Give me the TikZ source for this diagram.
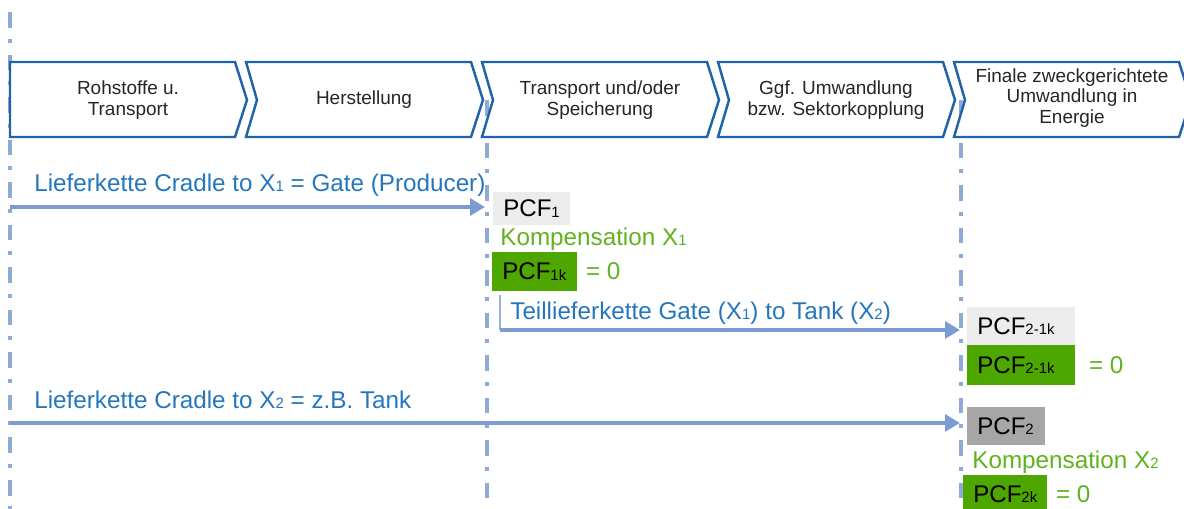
\documentclass[tikz,border=0pt]{standalone}
\usepackage{fontspec}
\setmainfont{Liberation Sans}
\usetikzlibrary{arrows.meta,positioning}

\definecolor{chevblue}{RGB}{31,99,168}
\definecolor{gridblue}{RGB}{143,170,215}
\definecolor{flowblue}{RGB}{124,155,210}
\definecolor{feedblue}{RGB}{150,180,225}
\definecolor{labelblue}{RGB}{36,118,189}
\definecolor{kompgreen}{RGB}{96,178,30}
\definecolor{boxgreen}{RGB}{78,166,0}
\definecolor{boxlight}{RGB}{236,236,236}
\definecolor{boxdark}{RGB}{166,166,166}

% small index digits sitting on the baseline
\newcommand{\ix}[1]{\raisebox{-0.2pt}{\scalebox{0.62}{#1}}}

\begin{document}
\begin{tikzpicture}[%
    x=0.02cm, y=-0.02cm,
    >={Triangle[length=8.5pt,width=9.5pt]},
    phase/.style={font=\fontsize{10.8}{11.6}\selectfont, text=black!85, align=center},
    chevron/.style={draw=chevblue, line width=1.4pt, fill=white},
    boundary/.style={draw=gridblue, line width=2pt,
      dash pattern=on 9pt off 6.2pt on 2.2pt off 6.8pt},
    flow/.style={draw=flowblue, line width=2.6pt, ->},
    feed/.style={draw=feedblue, line width=1.1pt},
    chain/.style={font=\fontsize{13.8}{16}\selectfont, text=labelblue, inner sep=0pt, anchor=west},
    komp/.style={font=\fontsize{13.8}{16}\selectfont, text=kompgreen, inner sep=0pt, anchor=west},
    pcf/.style={font=\fontsize{13.7}{16}\selectfont, text=black, anchor=west,
      inner xsep=0.2cm, inner ysep=0pt, align=left},
    pcfgray/.style={pcf, fill=boxlight},
    pcfdark/.style={pcf, fill=boxdark},
    pcfgreen/.style={pcf, fill=boxgreen}
  ]
    \useasboundingbox (0,0) rectangle (1184,509);
    \clip (0,0) rectangle (1184,509);

    % phase boundaries (behind the chevrons)
    \draw[boundary] (10,12) -- (10,509);
    \draw[boundary] (487,100) -- (487,509);
    \draw[boundary] (961,100) -- (961,509);

    % value chain
    \draw[chevron] (10,62) -- (235,62) -- (247,100) -- (235,137) -- (10,137) -- cycle;
    \foreach \x in {246,482,718,954}
      \draw[chevron] (\x,62) -- ({\x+225},62) -- ({\x+237},100)
        -- ({\x+225},137) -- (\x,137) -- ({\x+11},100) -- cycle;

    \node[phase] (rohstoffe)   at (128,100) {Rohstoffe u.\\Transport};
    \node[phase] (herstellung) at (364,100) {Herstellung};
    \node[phase] (transport)   at (600,100) {Transport und/oder\\Speicherung};
    \node[phase] (umwandlung)  at (836,100) {Ggf. Umwandlung\\bzw. Sektorkopplung};
    \node[phase] (energie)     at (1072,98) {Finale zweckgerichtete\\Umwandlung in\\Energie};

    % footprints at the gate
    \node[pcfgray, text width=1.14cm, minimum height=0.66cm] (pcf1) at (493,208.5) {PCF\ix{1}};
    \node[komp] (komp1) at (500,239) {Kompensation X\ix{1}};
    \node[pcfgreen, text width=1.30cm, minimum height=0.78cm] (pcf1k) at (492,271.5) {PCF\ix{1k}};
    \node[komp, right=0.16cm of pcf1k] (null1) {= 0};

    % footprints at the tank
    \node[pcfgray, text width=1.76cm, minimum height=0.76cm] (pcf21) at (967,326) {PCF\ix{2-1k}};
    \node[pcfgreen, text width=1.76cm, minimum height=0.80cm] (pcf21k) at (967,365) {PCF\ix{2-1k}};
    \node[komp, right=0.26cm of pcf21k] (null21) {= 0};
    \node[pcfdark, text width=1.16cm, minimum height=0.76cm] (pcf2) at (967,426) {PCF\ix{2}};
    \node[komp] (komp2) at (972,462) {Kompensation X\ix{2}};
    \node[pcfgreen, text width=1.28cm, minimum height=0.76cm] (pcf2k) at (963,494) {PCF\ix{2k}};
    \node[komp, right=0.16cm of pcf2k] (null2) {= 0};

    % supply chains
    \coordinate (srcA) at (10,207);
    \coordinate (bendB) at (500,330);
    \coordinate (srcC) at (10,423);

    \node[chain] (cradle1) at (34,185) {Lieferkette Cradle to X\ix{1} = Gate (Producer)};
    \node[chain] (teil)    at (510,313) {Teillieferkette Gate (X\ix{1}) to Tank (X\ix{2})};
    \node[chain] (cradle2) at (34,400) {Lieferkette Cradle to X\ix{2} = z.B. Tank};

    \draw[flow, shorten >=0.16cm] (srcA) -- (srcA -| pcf1.west);
    \draw[feed, shorten <=2pt] (bendB |- pcf1k.south) -- (bendB);
    \draw[flow, shorten >=0.14cm] (bendB) -- (bendB -| pcf21.west);
    \draw[flow, shorten >=0.14cm] (srcC) -- (srcC -| pcf2.west);
  \end{tikzpicture}
\end{document}
